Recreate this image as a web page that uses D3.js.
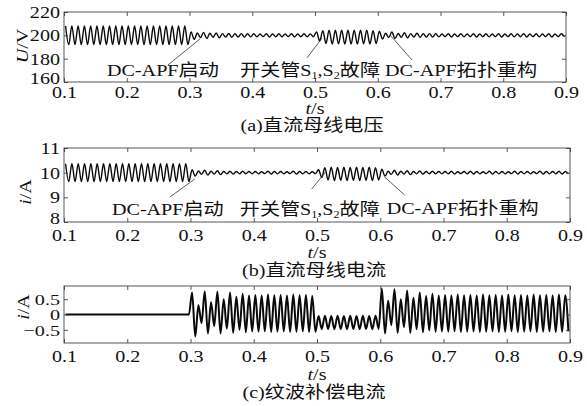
<!DOCTYPE html>
<html><head><meta charset="utf-8">
<script src="https://cdn.jsdelivr.net/npm/d3@7"></script>
<style>
body{margin:0;background:#fff;}
svg{display:block;background:#fff;}
text{font-family:"Liberation Serif","Times New Roman","Noto Sans CJK SC",serif;fill:#111;}
</style></head><body>
<svg id="c" width="587" height="406"></svg>
<script>
// ---------------- data ----------------
// Each waveform is stored as per-cycle extremes of a 100 Hz ripple (one max + one min per 10 ms cycle, 0.1 s .. 0.9 s)
const cycleStart = 0.1;
const cyclePeriod = 0.01;

const xTicks = [0.1,0.2,0.3,0.4,0.5,0.6,0.7,0.8,0.9];

// (a) DC bus voltage U/V
const uTicks = [160,180,200,220];
const uMax = [208,208,208,208,208,208,208,208,208,208, 208,208,208,208,208,208,208,208,208,208,
  203,202,202.5,201.8,202,201.5,201.6,201.4,201.5,201.3,
  201.3,201.1,201.4,201.2,201.3,201.1,201.4,201.2,201.3,201.2,
  203,204,204.5,204.3,204.5,204.4,204.5,204.3,204.5,204,
  203.5,201.8,202.8,201.6,202.2,201.5,201.8,201.4,201.5,201.3,
  201.2,201.4,201.1,201.3,201.2,201.4,201.1,201.3,201.2,201.4,
  201.1,201.3,201.2,201.4,201.1,201.3,201.2,201.4,201.1,201.3];
const uMin = [192,192,192,192,192,192,192,192,192,192, 192,192,192,192,192,192,192,192,192,192,
  196.5,198,197.2,198.3,197.8,198.5,198.3,198.6,198.5,198.7,
  198.7,198.9,198.6,198.8,198.7,198.9,198.6,198.8,198.7,198.8,
  195,193,192.5,192.7,192.5,192.6,192.5,192.7,192.5,193,
  196.8,198.2,197.3,198.4,197.8,198.6,198.3,198.6,198.5,198.7,
  198.8,198.6,198.9,198.7,198.8,198.6,198.9,198.7,198.8,198.6,
  198.9,198.7,198.8,198.6,198.9,198.7,198.8,198.6,198.9,198.7];

// (b) DC bus current i/A
const iTicks = [8,9,10,11];
const iMax = [10.36,10.36,10.36,10.36,10.36,10.36,10.36,10.36,10.36,10.36, 10.36,10.36,10.36,10.36,10.36,10.36,10.36,10.36,10.36,10.36,
  10.12,10.07,10.1,10.06,10.08,10.05,10.06,10.05,10.06,10.05,
  10.05,10.04,10.06,10.05,10.05,10.04,10.06,10.05,10.05,10.04,
  10.12,10.2,10.22,10.21,10.22,10.21,10.22,10.21,10.22,10.2,
  10.14,10.06,10.1,10.06,10.08,10.05,10.07,10.05,10.06,10.05,
  10.05,10.06,10.04,10.05,10.06,10.05,10.04,10.06,10.05,10.05,
  10.04,10.06,10.05,10.05,10.04,10.06,10.05,10.05,10.06,10.05];
const iMin = [9.64,9.64,9.64,9.64,9.64,9.64,9.64,9.64,9.64,9.64, 9.64,9.64,9.64,9.64,9.64,9.64,9.64,9.64,9.64,9.64,
  9.86,9.93,9.9,9.94,9.92,9.95,9.94,9.95,9.95,9.95,
  9.95,9.96,9.94,9.95,9.95,9.96,9.94,9.95,9.95,9.96,
  9.8,9.7,9.68,9.69,9.68,9.69,9.68,9.69,9.68,9.7,
  9.86,9.93,9.9,9.94,9.92,9.95,9.94,9.95,9.95,9.95,
  9.95,9.94,9.96,9.95,9.94,9.95,9.96,9.94,9.95,9.95,
  9.96,9.94,9.95,9.95,9.96,9.94,9.95,9.95,9.94,9.95];

// (c) ripple compensation current i/A
const cTicks = [-0.5,0,0.5];
const cMax = [0,0,0,0,0,0,0,0,0,0, 0,0,0,0,0,0,0,0,0,0,
  0.72,0.3,0.75,0.4,0.74,0.5,0.72,0.58,0.68,0.62,
  0.64,0.62,0.65,0.63,0.64,0.62,0.65,0.63,0.64,0.6,
  -0.05,-0.04,-0.05,-0.04,-0.05,-0.04,-0.05,-0.04,-0.05,-0.04,
  0.85,0.45,0.82,0.5,0.78,0.55,0.72,0.6,0.68,0.62,
  0.64,0.62,0.65,0.63,0.64,0.62,0.65,0.63,0.64,0.62,
  0.65,0.63,0.64,0.62,0.65,0.63,0.64,0.62,0.65,0.63];
const cMin = [0,0,0,0,0,0,0,0,0,0, 0,0,0,0,0,0,0,0,0,0,
  -0.72,-0.28,-0.62,-0.38,-0.62,-0.46,-0.6,-0.5,-0.58,-0.55,
  -0.56,-0.55,-0.57,-0.56,-0.55,-0.57,-0.56,-0.55,-0.57,-0.56,
  -0.48,-0.47,-0.48,-0.47,-0.48,-0.47,-0.48,-0.47,-0.48,-0.47,
  -0.62,-0.35,-0.6,-0.42,-0.6,-0.48,-0.58,-0.52,-0.56,-0.55,
  -0.56,-0.55,-0.57,-0.56,-0.55,-0.57,-0.56,-0.55,-0.57,-0.56,
  -0.55,-0.57,-0.56,-0.55,-0.57,-0.56,-0.55,-0.57,-0.56,-0.55];

const captions = ["(a)直流母线电压","(b)直流母线电流","(c)纹波补偿电流"];
const yTitles = [["U","/V"],["i","/A"],["i","/A"]];
const notes = ["DC-APF启动", "开关管S₁,S₂故障", "DC-APF拓扑重构"];

// ---------------- layout ----------------
const svg = d3.select("#c");
const FS = 16.5, SX = 1.22;
const panels = [
  {maxs:uMax, mins:uMin, dom:[160,220], ticks:uTicks, fmt:d=>d, L:64, R:566, T:12, B:82, sw:1.4, lab:98, ts:114, cap:131, yl:[22,46], low:-4, yfs:FS,
   ann:[{tx:0.1685,ty:165.3,lx:[0.2657,0.3167],ly:[174.6,196.9]},
        {tx:0.3805,ty:165.3,lx:[0.4873,0.5112],ly:[180.6,197.7]},
        {tx:0.6116,ty:165.3,lx:[0.6546,0.6195],ly:[178.9,200.3]}]},
  {maxs:iMax, mins:iMin, dom:[8,11], ticks:iTicks, fmt:d=>d, L:64, R:570, T:148, B:222, sw:1.4, lab:241, ts:258, cap:276, yl:[25,192], low:-4, yfs:FS,
   ann:[{tx:0.1758,ty:8.284,lx:[0.2674,0.3069],ly:[9.014,9.743]},
        {tx:0.3779,ty:8.284,lx:[0.4916,0.5137],ly:[9.338,10.027]},
        {tx:0.6101,ty:8.32,lx:[0.6385,0.6069],ly:[9.095,9.824]}]},
  {maxs:cMax, mins:cMin, dom:[-0.93,0.93], ticks:cTicks, fmt:d=>d<0?"\u2212"+Math.abs(d):String(d), L:64, R:570, T:286, B:343, sw:2, lab:362, ts:380, cap:398, yl:[23,307], low:0, yfs:15.5,
   ann:[]},
];

function stretchText(sel){ // reference glyphs are horizontally widened
  sel.attr("transform", function(){ const x=+d3.select(this).attr("x")||0; const y=+d3.select(this).attr("y")||0;
    return `translate(${x},${y}) scale(${SX},1)`; }).attr("x",0).attr("y",0);
}

panels.forEach((p, pi) => {
  const x = d3.scaleLinear().domain([0.1,0.9]).range([p.L,p.R]);
  const y = d3.scaleLinear().domain(p.dom).range([p.B,p.T]);
  const g = svg.append("g");

  // waveform points from cycle extremes
  const pts = [];
  p.maxs.forEach((v,k) => {
    const t0 = cycleStart + k*cyclePeriod;
    pts.push([t0 + cyclePeriod*0.25, v]);
    pts.push([t0 + cyclePeriod*0.75, p.mins[k]]);
  });
  g.append("path").datum(pts)
    .attr("d", d3.line().x(d=>x(d[0])).y(d=>y(d[1])).curve(d3.curveMonotoneX))
    .attr("fill","none").attr("stroke","#0a0a0a").attr("stroke-width",p.sw).attr("stroke-linejoin","round");

  // axes (inward ticks, MATLAB box)
  const styleAxis = a => { a.select(".domain").remove(); a.selectAll("line").attr("stroke","#444").attr("stroke-width",0.9); };
  const ax = g.append("g").attr("transform",`translate(0,${p.B})`)
    .call(d3.axisBottom(x).tickValues(xTicks).tickSizeInner(-4).tickSizeOuter(0).tickFormat(d3.format(".1f")));
  styleAxis(ax);
  ax.selectAll("text").attr("font-size",FS).attr("fill","#111").attr("dy",null).attr("y",p.lab-p.B).each(function(){stretchText(d3.select(this));});
  const axT = g.append("g").attr("transform",`translate(0,${p.T})`)
    .call(d3.axisTop(x).tickValues(xTicks).tickSizeInner(-4).tickSizeOuter(0).tickFormat(""));
  styleAxis(axT);
  const ay = g.append("g").attr("transform",`translate(${p.L},0)`)
    .call(d3.axisLeft(y).tickValues(p.ticks).tickSizeInner(-4).tickSizeOuter(0).tickFormat(p.fmt));
  styleAxis(ay);
  ay.selectAll("text").attr("font-size",p.yfs).attr("fill","#111").attr("x",-4)
    .attr("dy",(d,i)=> i===0 ? (0.34*p.yfs + p.low)+"px" : "0.34em")
    .each(function(){stretchText(d3.select(this));});
  if (pi===2) ay.selectAll("text").attr("transform", function(){ return d3.select(this).attr("transform").replace(`scale(${SX},1)`,"scale(1.3,1)"); });
  const ayR = g.append("g").attr("transform",`translate(${p.R},0)`)
    .call(d3.axisRight(y).tickValues(p.ticks).tickSizeInner(-4).tickSizeOuter(0).tickFormat(""));
  styleAxis(ayR);
  g.append("rect").attr("x",p.L).attr("y",p.T).attr("width",p.R-p.L).attr("height",p.B-p.T)
    .attr("fill","none").attr("stroke","#444").attr("stroke-width",0.9);

  // y title
  const yt = g.append("text").attr("font-size",FS).attr("text-anchor","middle")
    .attr("transform",`translate(${p.yl[0]},${p.yl[1]}) rotate(-90) scale(${SX},1)`).attr("dy","0.35em");
  yt.append("tspan").attr("font-style","italic").text(yTitles[pi][0]);
  yt.append("tspan").text(yTitles[pi][1]);

  // x title
  const xt = g.append("text").attr("font-size",FS).attr("text-anchor","middle")
    .attr("transform",`translate(${(p.L+p.R)/2},${p.ts}) scale(${SX},1)`);
  xt.append("tspan").attr("font-style","italic").text("t");
  xt.append("tspan").text("/s");

  // caption
  g.append("text").attr("font-size",FS).attr("text-anchor","middle")
    .attr("transform",`translate(${(p.L+p.R)/2-3},${p.cap}) scale(${SX},1)`).text(captions[pi]);

  // annotations
  p.ann.forEach((a, ai) => {
    g.append("line").attr("x1",x(a.lx[0])).attr("y1",y(a.ly[0])).attr("x2",x(a.lx[1])).attr("y2",y(a.ly[1]))
      .attr("stroke","#333").attr("stroke-width",0.8);
    const t = g.append("text").attr("font-size",FS)
      .attr("transform",`translate(${x(a.tx)},${y(a.ty)}) scale(${SX},1)`);
    if (ai === 1) {
      t.append("tspan").text("开关管S");
      t.append("tspan").attr("font-size",FS*0.6).attr("dy",3).text("1");
      t.append("tspan").attr("dy",-3).text(",S");
      t.append("tspan").attr("font-size",FS*0.6).attr("dy",3).text("2");
      t.append("tspan").attr("dy",-3).text("故障");
    } else {
      t.text(notes[ai]);
    }
  });
});
</script>
</body></html>
